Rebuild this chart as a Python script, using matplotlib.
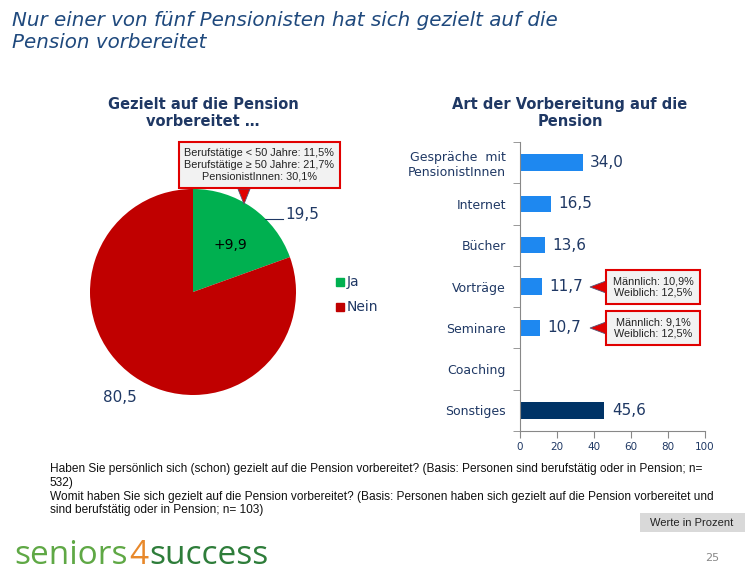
import numpy as np
import matplotlib.pyplot as plt
from matplotlib.patches import Rectangle, Polygon

# data
pie_labels = ['Ja', 'Nein']
pie_values = [19.5, 80.5]
pie_colors = ['#00B050', '#C00000']

bar_cats = ['Gespräche  mit\nPensionistInnen', 'Internet', 'Bücher', 'Vorträge',
            'Seminare', 'Coaching', 'Sonstiges']
bar_vals = [34.0, 16.5, 13.6, 11.7, 10.7, np.nan, 45.6]
bar_colors = ['#1E88F0'] * 6 + ['#003366']
x_ticks = [0, 20, 40, 60, 80, 100]

W, H = 745, 574
navy = '#1F3864'
fig = plt.figure(figsize=(W / 100, H / 100), dpi=100)
fig.patch.set_facecolor('white')


def fx(x):
    return x / W


def fy(y):
    return 1 - y / H


def box(ax_rect):
    l, t, r, b = ax_rect
    return [fx(l), fy(b), fx(r) - fx(l), fy(t) - fy(b)]


# title
fig.text(fx(12), fy(32), 'Nur einer von fünf Pensionisten hat sich gezielt auf die\nPension vorbereitet',
         fontsize=14.3, style='italic', color='#1F497D', va='center', ha='left', linespacing=1.2)

# ---- pie ----
cx, cy, r = 193, 292, 103
axp = fig.add_axes(box([cx - r, cy - r, cx + r, cy + r]))
axp.pie(pie_values, colors=pie_colors, startangle=90, counterclock=False, radius=1,
        wedgeprops=dict(linewidth=0))
axp.set_xlim(-1, 1)
axp.set_ylim(-1, 1)
axp.set_aspect('equal')
axp.axis('off')

fig.text(fx(203), fy(113), 'Gezielt auf die Pension\nvorbereitet …', ha='center', va='center',
         fontsize=10.5, fontweight='bold', color=navy, linespacing=1.2)
fig.text(fx(230), fy(245), '+9,9', ha='center', va='center', fontsize=10, color='black')
fig.text(fx(285), fy(215), '19,5', ha='left', va='center', fontsize=11, color=navy)
fig.add_artist(plt.Line2D([fx(265), fx(283)], [fy(219), fy(219)], color=navy, lw=0.8))
fig.text(fx(103), fy(397), '80,5', ha='left', va='center', fontsize=11, color=navy)

# legend
for i, (lab, col) in enumerate(zip(pie_labels, pie_colors)):
    yy = 282 + i * 25
    fig.add_artist(Rectangle((fx(336), fy(yy + 4)), fx(8), fy(0) - fy(8), color=col,
                             transform=fig.transFigure))
    fig.text(fx(347), fy(yy), lab, ha='left', va='center', fontsize=10, color=navy)

# pie callout
fig.add_artist(Rectangle((fx(179), fy(188)), fx(340 - 179), fy(0) - fy(46), facecolor='#F2F2F2',
                         edgecolor='#E00000', lw=1.5, transform=fig.transFigure, zorder=3))
fig.add_artist(Polygon([[fx(238), fy(189)], [fx(250), fy(189)], [fx(244), fy(204)]], closed=True,
                       facecolor='#E00000', edgecolor='#555577', lw=0.6, transform=fig.transFigure))
fig.text(fx(259), fy(165), 'Berufstätige < 50 Jahre: 11,5%\nBerufstätige ≥ 50 Jahre: 21,7%\nPensionistInnen: 30,1%',
         ha='center', va='center', fontsize=7.8, color='#222222', linespacing=1.2,
         family=['Liberation Sans', 'DejaVu Sans'], zorder=4)

# ---- bars ----
axb = fig.add_axes(box([520, 142, 705, 431]))
y = np.arange(len(bar_cats))
axb.barh(y, bar_vals, height=0.4, color=bar_colors)
axb.set_ylim(len(bar_cats) - 0.5, -0.5)
axb.set_xlim(0, 100)
axb.set_xticks(x_ticks)
axb.set_xticklabels([str(t) for t in x_ticks], fontsize=7.5, color=navy)
axb.set_yticks(y)
axb.set_yticklabels(bar_cats, fontsize=9, color=navy, linespacing=1.2)
axb.set_yticks(np.arange(-0.5, len(bar_cats)), minor=True)
axb.tick_params(axis='y', which='major', length=0, pad=10)
axb.tick_params(axis='y', which='minor', length=5, color='#888888', direction='out')
axb.tick_params(axis='x', length=5, color='#888888', direction='out', pad=3)
for s in ['top', 'right']:
    axb.spines[s].set_visible(False)
for s in ['left', 'bottom']:
    axb.spines[s].set_color('#888888')
for yi, v in zip(y, bar_vals):
    if not np.isnan(v):
        axb.text(v + 4, yi, f'{v:.1f}'.replace('.', ','), va='center', ha='left',
                 fontsize=11, color=navy)

fig.text(fx(570), fy(113), 'Art der Vorbereitung auf die\nPension', ha='center', va='center',
         fontsize=10.5, fontweight='bold', color=navy, linespacing=1.2)

# bar callouts
for yc, txt in [(287, 'Männlich: 10,9%\nWeiblich: 12,5%'), (328, 'Männlich: 9,1%\nWeiblich: 12,5%')]:
    fig.add_artist(Rectangle((fx(606), fy(yc + 17)), fx(94), fy(0) - fy(34), facecolor='#F2F2F2',
                             edgecolor='#E00000', lw=1.5, transform=fig.transFigure, zorder=3))
    fig.add_artist(Polygon([[fx(606), fy(yc - 6)], [fx(606), fy(yc + 6)], [fx(590), fy(yc)]], closed=True,
                           facecolor='#E00000', edgecolor='#555577', lw=0.6, transform=fig.transFigure))
    fig.text(fx(653), fy(yc), txt, ha='center', va='center', fontsize=7.8, color='#222222',
             linespacing=1.2, family=['Liberation Sans', 'DejaVu Sans'], zorder=4)

# footnote
foot = ('Haben Sie persönlich sich (schon) gezielt auf die Pension vorbereitet? (Basis: Personen sind berufstätig oder in Pension; n=\n'
        '532)\n'
        'Womit haben Sie sich gezielt auf die Pension vorbereitet? (Basis: Personen haben sich gezielt auf die Pension vorbereitet und\n'
        'sind berufstätig oder in Pension; n= 103)')
fig.text(fx(50), fy(463), foot, ha='left', va='top', fontsize=8.6, color='#111111', linespacing=1.2,
         family=['Liberation Sans', 'DejaVu Sans'])

fig.add_artist(Rectangle((fx(640), fy(532)), fx(105), fy(0) - fy(19), facecolor='#D9D9D9',
                         edgecolor='none', transform=fig.transFigure))
fig.text(fx(692), fy(522.5), 'Werte in Prozent', ha='center', va='center', fontsize=8, color='#222222',
         family=['Liberation Sans', 'DejaVu Sans'])

# logo
lx = fx(14)
ly = fy(556)
t1 = fig.text(lx, ly, 'seniors', fontsize=24, color='#5FA845', ha='left', va='center',
              family=['Open Sans', 'DejaVu Sans'])
fig.canvas.draw()
bb = t1.get_window_extent()
t2 = fig.text(bb.x1 / W + 0.002, ly, '4', fontsize=24, color='#E8882A', ha='left', va='center',
              family=['Open Sans', 'DejaVu Sans'])
bb2 = t2.get_window_extent()
fig.text(bb2.x1 / W + 0.002, ly, 'success', fontsize=24, color='#2E7D3A', ha='left', va='center',
         family=['Open Sans', 'DejaVu Sans'])

fig.text(fx(712), fy(558), '25', ha='center', va='center', fontsize=8, color='#888888')

fig.savefig('out.png', dpi=100)
